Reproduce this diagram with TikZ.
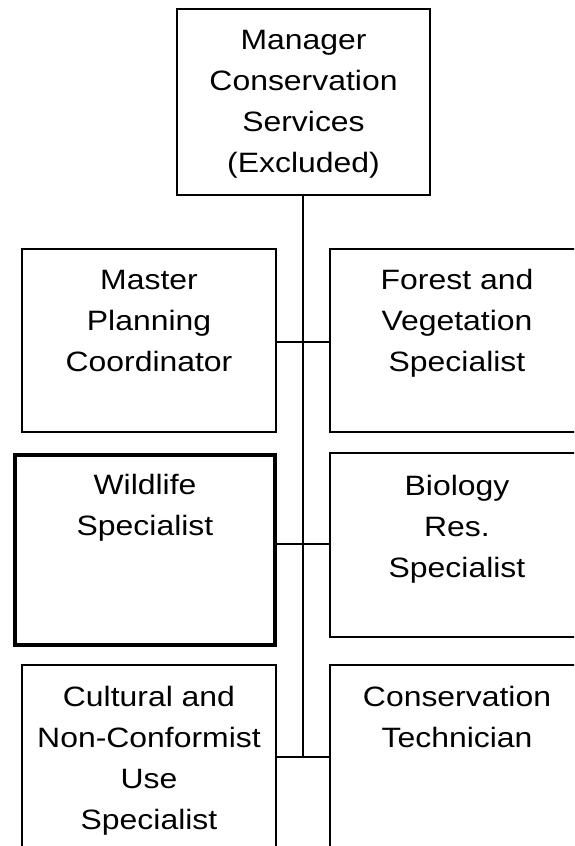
\documentclass[tikz,border=0pt]{standalone}
\usepackage{fontspec}
\setmainfont{Liberation Sans}[FakeStretch=1.14]
\begin{document}
\begin{tikzpicture}[x=1pt,y=-1pt,
  box/.style={draw=black, line width=1.6pt, rectangle, inner sep=0pt},
  keybox/.style={box, line width=4.6pt},
  lbl/.style={anchor=north, inner sep=0pt, align=center,
    font=\fontsize{28}{41}\selectfont},
  link/.style={draw=black, line width=1.7pt}]
\useasboundingbox (0,0) rectangle (574,846);
\clip (0,0) rectangle (574,846);
\fill[white] (0,0) rectangle (574,846);

% boxes
\node[box, minimum width=253pt, minimum height=186pt] (mgr) at (303.5,102) {};
\node[box, minimum width=254pt, minimum height=183pt] (mpc) at (149,340.5) {};
\node[box, minimum width=254pt, minimum height=183pt] (fvs) at (457,340.5) {};
\node[keybox, minimum width=260pt, minimum height=190pt] (wls) at (145,550) {};
\node[box, minimum width=254pt, minimum height=184pt] (brs) at (457,545) {};
\node[box, minimum width=254pt, minimum height=200pt] (cnu) at (149,765) {};
\node[box, minimum width=254pt, minimum height=200pt] (ctn) at (457,765) {};

% labels
\newcommand{\firstline}{\rule{0pt}{30pt}}
\node[lbl] (mgrT) at ([yshift=-11pt]mgr.north) {\firstline Manager\\Conservation\\Services\\(Excluded)};
\node[lbl] (mpcT) at ([yshift=-11pt]mpc.north) {\firstline Master\\Planning\\Coordinator};
\node[lbl] (fvsT) at ([yshift=-11pt]fvs.north) {\firstline Forest and\\Vegetation\\Specialist};
\node[lbl] (wlsT) at ([yshift=-12pt]wls.north) {\firstline Wildlife\\Specialist};
\node[lbl] (brsT) at ([yshift=-13pt]brs.north) {\firstline Biology\\Res.\\Specialist};
\node[lbl] (cnuT) at ([yshift=-12pt]cnu.north) {\firstline Cultural and\\Non-Conformist\\Use\\Specialist};
\node[lbl] (ctnT) at ([yshift=-12pt]ctn.north) {\firstline Conservation\\Technician};

% junctions on the trunk
\coordinate (j1) at (303,342);
\coordinate (j2) at (303,544);
\coordinate (j3) at (303,757);

% connectors
\draw[link] (mgr.south -| j3) -- (j3);
\draw[link] (mpc.east |- j1) -- (fvs.west |- j1);
\draw[link] (wls.east |- j2) -- (brs.west |- j2);
\draw[link] (cnu.east |- j3) -- (ctn.west |- j3);
\end{tikzpicture}
\end{document}
